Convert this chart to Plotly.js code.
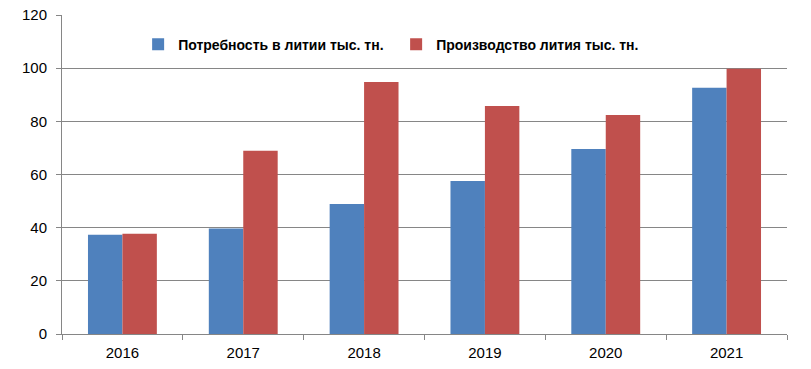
<!DOCTYPE html>
<html><head><meta charset="utf-8">
<script src="https://cdn.plot.ly/plotly-3.0.1.min.js"></script>
<style>html,body{margin:0;padding:0;background:#fff}#chart{width:811px;height:369px}</style>
</head><body><div id="chart"></div>
<script>
const years = ['2016','2017','2018','2019','2020','2021'];
const demand = [37.3, 39.7, 48.9, 57.6, 69.6, 92.6];
const production = [37.7, 68.9, 94.8, 85.8, 82.4, 99.8];
const seriesNames = ['Потребность в литии тыс. тн.', 'Производство лития тыс. тн.'];
const yTicks = [0, 20, 40, 60, 80, 100, 120];

const traces = [
  {type:'bar', x:years, y:demand, name:seriesNames[0], marker:{color:'#4f81bd'}},
  {type:'bar', x:years, y:production, name:seriesNames[1], marker:{color:'#c0504d'}}
];
const layout = {
  width:811, height:369,
  margin:{l:62, r:24, t:15, b:35},
  paper_bgcolor:'#fff', plot_bgcolor:'#fff',
  font:{family:'Liberation Sans, Arial, sans-serif', size:15, color:'#000'},
  barmode:'group', bargap:0.43, bargroupgap:0,
  showlegend:true,
  legend:{orientation:'h', x:0.105, y:0.907, xanchor:'left', yanchor:'middle',
          font:{size:14, family:'Liberation Sans, Arial, sans-serif', weight:'bold', color:'#000'},
          bgcolor:'rgba(0,0,0,0)', entrywidth:213, entrywidthmode:'pixels', traceorder:'normal'},
  xaxis:{type:'category', showline:true, linecolor:'#868686', linewidth:1,
         ticks:'outside', tickson:'boundaries', ticklen:5, tickcolor:'#868686',
         tickfont:{size:15}, showgrid:false, zeroline:false, fixedrange:true, ticklabelstandoff:5},
  yaxis:{range:[0,120], tickvals:yTicks, ticktext:yTicks.map(String), showline:true,
         linecolor:'#868686', linewidth:1, ticks:'outside', ticklen:5, tickcolor:'#868686',
         gridcolor:'#868686', gridwidth:1, zeroline:false, tickfont:{size:15}, ticklabelstandoff:6}
};
Plotly.newPlot('chart', traces, layout, {displayModeBar:false, staticPlot:true});
</script></body></html>
